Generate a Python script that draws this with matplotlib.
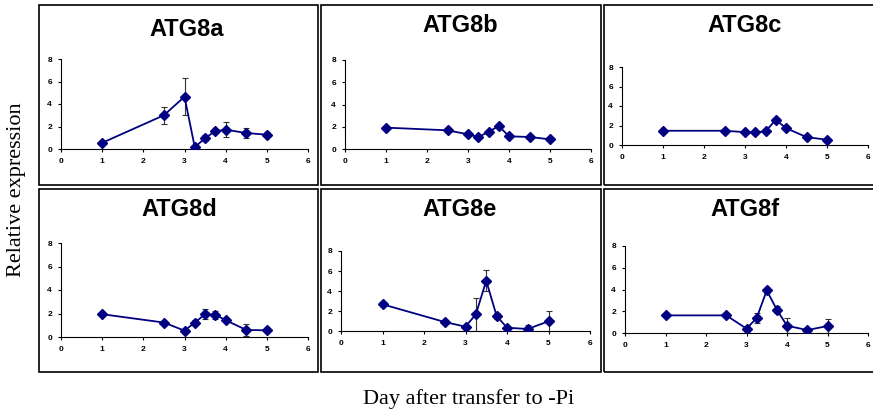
import matplotlib
matplotlib.use("Agg")
from matplotlib import pyplot as plt
from matplotlib.patches import Rectangle

W, H = 873, 417

days = [1, 2.5, 3, 3.25, 3.5, 3.75, 4, 4.5, 5]
genes = ["ATG8a", "ATG8b", "ATG8c", "ATG8d", "ATG8e", "ATG8f"]

atg8a = [0.55, 3.0, 4.65, 0.15, 0.98, 1.58, 1.72, 1.42, 1.27]
atg8b = [1.92, 1.68, 1.32, 1.08, 1.53, 2.07, 1.14, 1.08, 0.87]
atg8c = [1.46, 1.46, 1.32, 1.29, 1.39, 2.58, 1.73, 0.81, 0.54]
atg8d = [1.94, 1.23, 0.54, 1.23, 1.94, 1.89, 1.43, 0.6, 0.57]
atg8e = [2.67, 0.9, 0.43, 1.67, 5.03, 1.5, 0.33, 0.2, 0.97]
atg8f = [1.62, 1.62, 0.4, 1.37, 3.91, 2.14, 0.67, 0.27, 0.64]

err_a = [0.1, 0.75, 1.65, 0.1, 0.3, 0.2, 0.65, 0.42, 0.2]
err_b = [0.1, 0.1, 0.15, 0.1, 0.1, 0.15, 0.1, 0.1, 0.1]
err_c = [0.1, 0.1, 0.1, 0.1, 0.1, 0.2, 0.15, 0.1, 0.1]
err_d = [0.1, 0.1, 0.1, 0.2, 0.45, 0.35, 0.15, 0.52, 0.1]
err_e = [0.2, 0.2, 0.2, 1.67, 1.05, 0.3, 0.2, 0.4, 1.05]
err_f = [0.15, 0.1, 0.2, 0.46, 0.2, 0.3, 0.7, 0.15, 0.64]

values = [atg8a, atg8b, atg8c, atg8d, atg8e, atg8f]
errors = [err_a, err_b, err_c, err_d, err_e, err_f]

# axes boxes in pixels: left, right, top, bottom
ax_px = [(61, 308, 59, 149), (345, 591, 60, 149), (622, 868, 67, 145),
         (61, 308, 243, 337), (341, 590, 251, 331), (625, 868, 246, 333)]
# title centres in pixels
title_px = [(187, 29), (460, 26), (745, 25), (179, 209), (460, 209), (745, 209)]
# panel frames: left, right, top, bottom
frame_px = [(39, 318, 5, 185), (321, 601, 5, 185), (604, 885, 5, 185),
            (39, 318, 189, 372), (321, 601, 189, 372), (604, 885, 189, 372)]

fig = plt.figure(figsize=(W / 100, H / 100), dpi=100)
fig.patch.set_facecolor("white")

for l, r, t, b in frame_px:
    fig.patches.append(Rectangle((l / W, 1 - b / H), (r - l) / W, (b - t) / H,
                                 transform=fig.transFigure, fill=False,
                                 edgecolor="black", linewidth=1.2))

for i in range(6):
    l, r, t, b = ax_px[i]
    ax = fig.add_axes([l / W, 1 - b / H, (r - l) / W, (b - t) / H])
    ax.errorbar(days, values[i], yerr=errors[i], fmt="none", ecolor="#333333",
                elinewidth=0.8, capsize=2.2, capthick=0.8, zorder=2)
    ax.plot(days, values[i], color="#000080", linewidth=1.3, marker="D",
            markersize=5, zorder=3)
    ax.set_xlim(0, 6)
    ax.set_ylim(0, 8)
    ax.set_xticks(range(0, 7))
    ax.set_yticks(range(0, 9, 2))
    ax.spines["top"].set_visible(False)
    ax.spines["right"].set_visible(False)
    ax.spines["left"].set_linewidth(0.8)
    ax.spines["bottom"].set_linewidth(0.8)
    ax.tick_params(direction="out", length=2.5, width=0.8, pad=4)
    for lab in ax.get_xticklabels() + ax.get_yticklabels():
        lab.set_fontfamily("Liberation Sans")
        lab.set_fontweight("bold")
        lab.set_fontsize(6)
    ax.patch.set_alpha(0)
    tx, ty = title_px[i]
    fig.text(tx / W, 1 - ty / H, genes[i], ha="center", va="center",
             fontfamily="Liberation Sans", fontweight="bold", fontsize=17)

fig.text(17 / W, 1 - 190 / H, "Relative expression", rotation=90,
         ha="center", va="center", fontfamily="Liberation Serif", fontsize=16)
fig.text(469 / W, 1 - 399 / H, "Day after transfer to -Pi",
         ha="center", va="center", fontfamily="Liberation Serif", fontsize=16)

fig.savefig("out.png", dpi=100)
